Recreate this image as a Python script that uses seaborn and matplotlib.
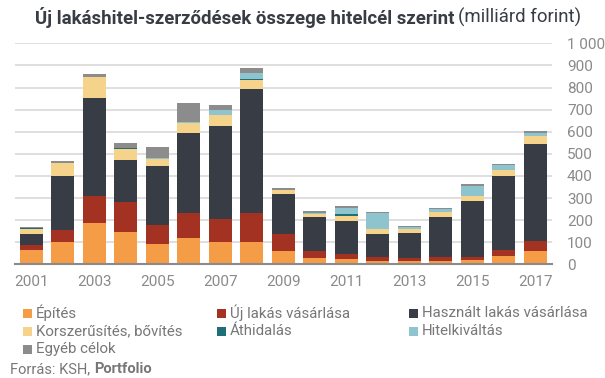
import pandas as pd
import numpy as np
import matplotlib.pyplot as plt
import seaborn as sns
from matplotlib.patches import Rectangle

# Adatok (milliárd forint)
evek = list(range(2001, 2018))
epites = [65, 101, 187, 146, 92, 119, 101, 101, 60, 29, 24, 15, 15, 15, 20, 38, 60]
uj_lakas = [22, 54, 122, 136, 86, 113, 104, 131, 77, 31, 23, 18, 14, 18, 13, 27, 46]
hasznalt = [50, 245, 444, 190, 267, 362, 421, 561, 181, 154, 149, 104, 113, 181, 254, 335, 438]
korszerusites = [23, 58, 95, 50, 32, 46, 50, 41, 18, 14, 23, 23, 18, 23, 22, 27, 37]
athidalas = [4, 0, 0, 4, 0, 0, 0, 5, 0, 0, 9, 0, 0, 0, 0, 0, 0]
hitelkivaltas = [1, 0, 0, 0, 4, 4, 22, 27, 0, 4, 27, 72, 9, 13, 45, 22, 13]
egyeb = [5, 10, 13, 23, 50, 86, 23, 22, 9, 9, 9, 5, 4, 5, 9, 5, 9]

kategoriak = ['Építés', 'Új lakás vásárlása', 'Használt lakás vásárlása',
              'Korszerűsítés, bővítés', 'Áthidalás', 'Hitelkiváltás', 'Egyéb célok']
szinek = ['#F59C47', '#A33222', '#383C45', '#F5D38A', '#1F6E78', '#8EC4CE', '#8C8C8C']

dados = pd.DataFrame({'Év': [str(e) for e in evek],
                      kategoriak[0]: epites, kategoriak[1]: uj_lakas,
                      kategoriak[2]: hasznalt, kategoriak[3]: korszerusites,
                      kategoriak[4]: athidalas, kategoriak[5]: hitelkivaltas,
                      kategoriak[6]: egyeb})
halmozott = dados[kategoriak].cumsum(axis=1)

plt.rcParams['font.family'] = ['Roboto', 'DejaVu Sans']
W, H = 605, 378
fig = plt.figure(figsize=(W / 100, H / 100), dpi=100)
ax = fig.add_axes([0.0248, 0.3008, 0.8872, 0.5846])

# Halmozott oszlopok: a legfelső rétegtől lefelé rajzolva
for kat, szin in reversed(list(zip(kategoriak, szinek))):
    sns.barplot(x=dados['Év'], y=halmozott[kat], color=szin, width=0.73,
                saturation=1, linewidth=0, ax=ax, zorder=3)

ax.set_ylim(0, 1000)
ax.set_xlim(-0.52, 16.52)
ax.set_yticks(range(0, 1001, 100))
ax.set_yticklabels([f'{v:,}'.replace(',', ' ') for v in range(0, 1001, 100)])
ax.yaxis.tick_right()
ax.tick_params(axis='y', length=0, pad=11, labelsize=11, labelcolor='#8A8A8A')
for lab in ax.get_yticklabels():
    lab.set_horizontalalignment('left')
ax.set_xticks(range(0, 17, 2))
ax.set_xticklabels([str(e) for e in evek[::2]])
ax.tick_params(axis='x', length=0, pad=8, labelsize=11, labelcolor='#8A8A8A')
ax.set_xlabel('')
ax.set_ylabel('')
ax.grid(axis='y', color='#DCDCDC', linewidth=1.3, zorder=0)
ax.set_axisbelow(True)
for s in ['top', 'left', 'right']:
    ax.spines[s].set_visible(False)
ax.spines['bottom'].set_color('#8A8A8A')
ax.spines['bottom'].set_linewidth(1.5)
ax.spines['bottom'].set_zorder(4)

# Jelmagyarázat: 3 oszlop, sorfolytonos sorrend
oszlop_x = [23, 217, 409]
sor_y = [313, 331, 349]
for n, (kat, szin) in enumerate(zip(kategoriak, szinek)):
    x0, y0 = oszlop_x[n % 3], sor_y[n // 3]
    fig.patches.append(Rectangle((x0 / W, 1 - (y0 + 4.5) / H), 9 / W, 9 / H,
                                 facecolor=szin, transform=fig.transFigure))
    fig.text((x0 + 13) / W, 1 - y0 / H, kat, fontsize=10.8, color='#777777',
             va='center', ha='left')

# Cím: félkövér + normál rész
fig.canvas.draw()
r = fig.canvas.get_renderer()
t1 = fig.text(0.058, 0.955, 'Új lakáshitel-szerződések összege hitelcél szerint',
              fontsize=13.4, fontweight='bold', color='#383C45', va='center')
bb = t1.get_window_extent(renderer=r)
fig.text((bb.x1 + 3) / W, 0.955, '(milliárd forint)', fontsize=13.4,
         color='#383C45', va='center')

s1 = fig.text(0.017, 0.024, 'Forrás: KSH, ', fontsize=10.5, color='#777777', va='center')
bb = s1.get_window_extent(renderer=r)
fig.text(bb.x1 / W, 0.024, 'Portfolio', fontsize=10.5, fontweight='bold',
         color='#777777', va='center')

plt.savefig('out.png', dpi=100)
